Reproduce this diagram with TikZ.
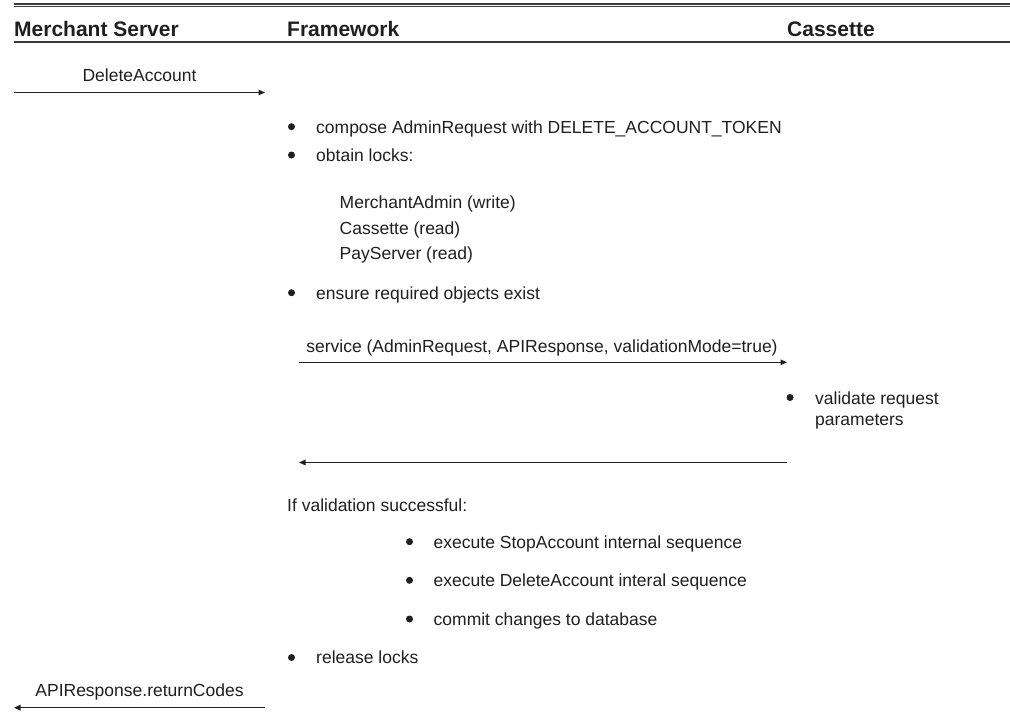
\documentclass[tikz,border=0pt]{standalone}
\usepackage{fontspec}
\setmainfont{Liberation Sans}
\usetikzlibrary{arrows.meta}
\definecolor{ink}{HTML}{1F1F1F}
\definecolor{rulegray}{HTML}{3A3A3A}
\begin{document}
\begin{tikzpicture}[x=1pt,y=-1pt,
  txt/.style={anchor=base west, inner sep=0pt, font=\fontsize{17.5}{21}\selectfont, text=ink},
  ctxt/.style={anchor=base, inner sep=0pt, font=\fontsize{17.5}{21}\selectfont, text=ink},
  head/.style={anchor=base west, inner sep=0pt, font=\fontsize{21}{25}\selectfont\bfseries, text=ink},
  msg/.style={draw=ink, line width=1.2pt, -{Triangle[length=6.5pt,width=5.5pt]}},
  hrule/.style={draw=rulegray, line width=1.1pt},
  dot/.style={circle, fill=ink, inner sep=0pt, minimum size=7pt}
]
\useasboundingbox (0,0) rectangle (1010,712);

% header band
\draw[hrule] (14,4) -- (1010,4);
\draw[hrule] (14,6.6) -- (1010,6.6);
\draw[hrule, line width=1.4pt] (14,42) -- (1010,42);
\node[head] (hMerchant) at (14,36.7) {Merchant Server};
\node[head] (hFramework) at (287,36.7) {Framework};
\node[head] (hCassette) at (787,36.7) {Cassette};

% incoming request
\coordinate (reqFrom) at (14,92.5);
\coordinate (reqTo) at (265,92.5);
\draw[msg] (reqFrom) -- (reqTo);
\node[ctxt] (reqLbl) at (139.5,81) {DeleteAccount};

% framework preparation steps
\node[dot] (b1) at (291.5,126.7) {};
\node[txt] (t1) at (316,133) {compose AdminRequest with DELETE\_ACCOUNT\_TOKEN};
\node[dot] (b2) at (291.5,155) {};
\node[txt] (t2) at (316,161.3) {obtain locks:};
\node[txt] (l1) at (339.5,208.6) {MerchantAdmin (write)};
\node[txt] (l2) at (339.5,234.1) {Cassette (read)};
\node[txt] (l3) at (339.5,259.6) {PayServer (read)};
\node[dot] (b3) at (291.5,292.7) {};
\node[txt] (t3) at (316,299) {ensure required objects exist};

% validation call to the cassette
\coordinate (svcFrom) at (299,362.3);
\coordinate (svcTo) at (787,362.3);
\draw[msg] (svcFrom) -- (svcTo);
\node[ctxt] (svcLbl) at (542,352.6) {service (AdminRequest, APIResponse, validationMode=true)};

\node[dot] (b4) at (790,397.5) {};
\node[txt] (t4) at (815,404.3) {validate request};
\node[txt] (t4b) at (815,425.5) {parameters};

% response back to the framework
\coordinate (retFrom) at (787,462.5);
\coordinate (retTo) at (299,462.5);
\draw[msg] (retFrom) -- (retTo);

% follow-up work
\node[txt] (cond) at (287,511) {If validation successful:};
\node[dot] (n1) at (409.5,541.7) {};
\node[txt] (s1) at (433.5,548) {execute StopAccount internal sequence};
\node[dot] (n2) at (409.5,580.3) {};
\node[txt] (s2) at (433.5,586.6) {execute DeleteAccount interal sequence};
\node[dot] (n3) at (409.5,619) {};
\node[txt] (s3) at (433.5,625.3) {commit changes to database};
\node[dot] (b5) at (291.5,657.5) {};
\node[txt] (t5) at (316,663.8) {release locks};

% reply to the merchant server
\coordinate (ansFrom) at (265,707.7);
\coordinate (ansTo) at (14,707.7);
\draw[msg] (ansFrom) -- (ansTo);
\node[ctxt] (ansLbl) at (139.5,696.7) {APIResponse.returnCodes};
\end{tikzpicture}
\end{document}
